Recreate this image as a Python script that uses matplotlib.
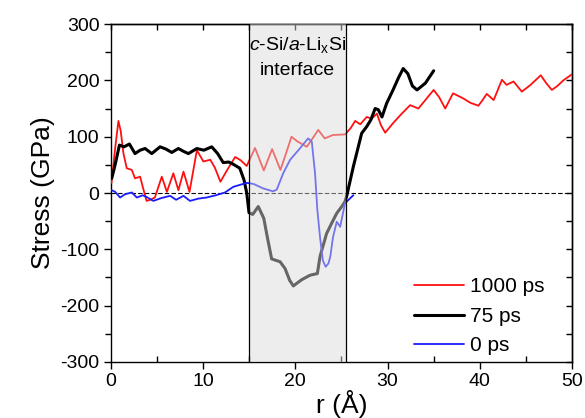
import numpy as np
import matplotlib.pyplot as plt
from matplotlib.ticker import MultipleLocator

plt.rcParams['font.family'] = ['Liberation Sans', 'DejaVu Sans']
plt.rcParams['axes.unicode_minus'] = False
plt.rcParams['mathtext.fontset'] = 'custom'
plt.rcParams['mathtext.rm'] = 'Liberation Sans'
plt.rcParams['mathtext.it'] = 'Liberation Sans:italic'

# ---- data ----
r_1000 = [0.1, 0.5, 0.85, 1.1, 1.4, 1.75, 2.3, 2.65, 3.2, 3.5, 3.9, 4.3, 4.8, 5.55, 6.1,
          6.8, 7.35, 7.9, 8.55, 9.35, 10.05, 10.8, 11.3, 11.9, 12.6, 13.5, 14.1, 14.75,
          15.65, 16.6, 17.5, 18.4, 19.0, 19.6, 20.2, 21.25, 21.8, 22.5, 23.2, 24.1, 25.4,
          26.0, 26.5, 27.05, 27.75, 28.3, 28.85, 29.3, 29.75, 30.6, 31.55, 32.45, 33.35,
          34.25, 35.0, 35.6, 36.25, 37.1, 38.2, 39.0, 39.85, 40.3, 40.75, 41.5, 42.0, 42.4,
          42.9, 43.65, 44.55, 45.5, 46.6, 47.2, 47.8, 48.4, 49.05, 50.0]
s_1000 = [18, 80, 128, 110, 70, 44, 41, 26, 29, 10, -14, -12, -8, 29, 2,
          35, 5, 38, 2, 76, 56, 59, 45, 20, 40, 64, 58, 48,
          80, 40, 78, 41, 70, 100, 92, 82, 95, 112, 97, 103, 104,
          115, 128, 122, 135, 132, 141, 120, 107, 124, 141, 156, 150,
          168, 183, 170, 150, 177, 168, 160, 155, 165, 176, 165, 185, 201,
          192, 198, 180, 192, 209, 195, 183, 190, 200, 211]

r_75 = [0.13, 0.49, 0.96, 1.46, 2.04, 2.65, 3.2, 3.74, 4.46, 5.36, 6.0, 6.63, 7.35, 7.9,
        8.43, 9.34, 10.1, 10.96, 11.6, 12.2, 12.8, 13.3, 14.0, 14.46, 14.75, 15.0, 15.4,
        16.0, 16.6, 17.0, 17.45, 18.36, 18.9, 19.4, 19.8, 20.2, 20.7, 21.6, 22.4, 22.7,
        23.4, 24.0, 24.5, 25.0, 25.4, 25.6, 26.3, 27.2, 27.75, 28.2, 28.66, 29.0, 29.4,
        29.9, 30.6, 31.2, 31.7, 32.2, 32.7, 33.2, 34.1, 35.0]
s_75 = [26, 50, 85, 82, 87, 70, 76, 79, 70, 82, 78, 72, 79, 74,
        70, 79, 76, 82, 70, 54, 55, 51, 44, 23, 0, -35, -38,
        -24, -45, -80, -117, -122, -134, -155, -165, -160, -154, -146, -143, -112,
        -72, -52, -36, -25, -15, -4, 47, 106, 118, 130, 150, 148, 135,
        159, 183, 205, 221, 212, 190, 183, 195, 217]

r_0 = [0.13, 0.5, 1.03, 1.6, 2.3, 2.84, 3.5, 4.0, 4.64, 5.5, 6.45, 7.1, 7.9, 8.6, 9.5,
       10.4, 11.4, 12.4, 13.3, 14.75, 15.5, 16.55, 17.6, 18.0, 18.7, 19.45, 20.5, 21.4,
       21.8, 22.15, 22.4, 22.7, 23.0, 23.3, 23.6, 23.8, 24.1, 24.5, 24.87, 25.4, 26.3]
s_0 = [5, 2, -8, -2, 1, -8, -4, -8, -14, -9, -5, -12, -5, -14, -10,
       -8, -4, 1, 11, 18, 16, 8, 3, 6, 35, 59, 79, 97,
       91, 35, -30, -80, -120, -131, -125, -113, -78, -51, -60, -18, -4]

interface = (15.0, 25.5)

# ---- figure ----
fig = plt.figure(figsize=(5.85, 4.18), dpi=100)
ax = fig.add_axes([0.189, 0.134, 0.789, 0.8085])

style = dict(solid_joinstyle='round', solid_capstyle='round', zorder=3)
ax.plot(r_1000, s_1000, color='#ff1010', lw=1.3, label='1000 ps', **style)
ax.plot(r_75, s_75, color='black', lw=2.2, label='75 ps', **style)
ax.plot(r_0, s_0, color='#1a1aff', lw=1.3, label='0 ps', **style)

ax.axhline(0, color='black', lw=0.8, ls=(0, (4, 2)), zorder=2)

# shaded interface region drawn over the curves
ax.axvspan(*interface, facecolor='#dadada', alpha=0.47, edgecolor='none', zorder=4)
for xv in interface:
    ax.axvline(xv, color='black', lw=0.9, zorder=5)

ax.text(sum(interface) / 2, 280, '$c$-Si/$a$-Li$_\\mathrm{x}$Si\ninterface',
        ha='center', va='top', fontsize=14, linespacing=1.55, zorder=6)

ax.set_xlim(0, 50)
ax.set_ylim(-300, 300)
ax.xaxis.set_major_locator(MultipleLocator(10))
ax.xaxis.set_minor_locator(MultipleLocator(5))
ax.yaxis.set_major_locator(MultipleLocator(100))
ax.yaxis.set_minor_locator(MultipleLocator(50))

ax.tick_params(axis='x', which='major', direction='out', length=5, width=1, labelsize=14, pad=3)
ax.tick_params(axis='x', which='minor', direction='in', length=4, width=1)
ax.tick_params(axis='y', which='both', direction='out', width=1, labelsize=14, pad=3)
ax.tick_params(axis='y', which='major', length=5)
ax.tick_params(axis='y', which='minor', length=4)

top = ax.secondary_xaxis('top')
top.xaxis.set_major_locator(MultipleLocator(10))
top.xaxis.set_minor_locator(MultipleLocator(5))
top.tick_params(which='both', direction='in', length=4, width=1, labeltop=False)
right = ax.secondary_yaxis('right')
right.yaxis.set_major_locator(MultipleLocator(100))
right.yaxis.set_minor_locator(MultipleLocator(50))
right.tick_params(which='both', direction='in', length=4, width=1, labelright=False)

for sp in list(ax.spines.values()) + [top.spines['top'], right.spines['right']]:
    sp.set_linewidth(1)

ax.set_xlabel('r (Å)', fontsize=19, labelpad=0)
ax.set_ylabel('Stress (GPa)', fontsize=19, labelpad=4)

ax.legend(loc='lower right', bbox_to_anchor=(0.94, 0.02), frameon=False, fontsize=15,
          handlelength=2.4, handletextpad=0.3, labelspacing=0.5,
          borderaxespad=0, borderpad=0)

plt.savefig('out.png', dpi=100)
